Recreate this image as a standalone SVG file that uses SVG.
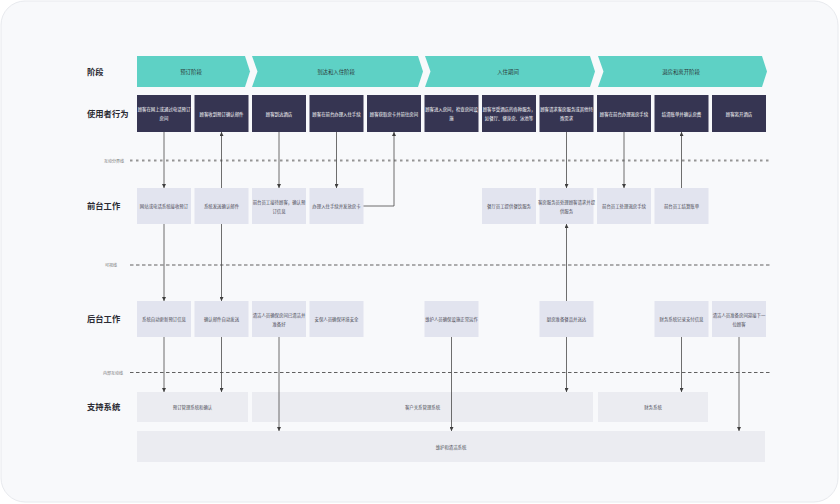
<svg xmlns="http://www.w3.org/2000/svg" width="840" height="504" viewBox="0 0 840 504">
<defs>
<style>
.lbl{font-family:"Noto Sans CJK SC","Noto Sans",sans-serif;font-size:8.3px;font-weight:bold;fill:#2b2b33}
.ph{fill:#5ed1c5}
.pht{font-family:"Noto Sans CJK SC","Noto Sans",sans-serif;font-size:5.4px;fill:#2d3b3a;text-anchor:middle;dominant-baseline:central}
.ub{fill:#363552}
.ubt{font-family:"Noto Sans CJK SC","Noto Sans",sans-serif;font-size:4.4px;fill:#ffffff;text-anchor:middle;dominant-baseline:central}
.lb{fill:#e2e4ef}
.lbt{font-family:"Noto Sans CJK SC","Noto Sans",sans-serif;font-size:4.4px;fill:#4a4a55;text-anchor:middle;dominant-baseline:central}
.sb{fill:#ebecf1}
.ln{font-family:"Noto Sans CJK SC","Noto Sans",sans-serif;font-size:4px;fill:#777;dominant-baseline:central}
.c{stroke:#4a4a4a;stroke-width:0.8;fill:none}
</style>
<marker id="ah" viewBox="0 0 6 6" refX="6" refY="3" markerWidth="4" markerHeight="4" orient="auto" markerUnits="userSpaceOnUse"><path d="M0,0 L6,3 L0,6 Z" fill="#3e3e3e"/></marker>
</defs>
<rect x="1" y="1" width="837" height="501" rx="24" fill="#f8f9fb" stroke="#e8eaee"/>

<g id="row-labels">
<text class="lbl" x="87" y="74.5">阶段</text>
<text class="lbl" x="87" y="116.5">使用者行为</text>
<text class="lbl" x="87" y="209">前台工作</text>
<text class="lbl" x="87" y="322">后台工作</text>
<text class="lbl" x="87" y="410">支持系统</text>
</g>

<g id="phases">
<g id="phase1"><path class="ph" d="M137,56 L245,56 L250,71.5 L245,87 L137,87 Z"/><text class="pht" x="191" y="71.5">预订阶段</text></g>
<g id="phase2"><path class="ph" d="M252,56 L418,56 L423,71.5 L418,87 L252,87 L257.5,71.5 Z"/><text class="pht" x="336" y="71.5">到达和入住阶段</text></g>
<g id="phase3"><path class="ph" d="M425,56 L590,56 L595,71.5 L590,87 L425,87 L430.5,71.5 Z"/><text class="pht" x="508" y="71.5">入住期间</text></g>
<g id="phase4"><path class="ph" d="M598,56 L762,56 L767,71.5 L762,87 L598,87 L603.5,71.5 Z"/><text class="pht" x="681" y="71.5">退房和离开阶段</text></g>
</g>

<g id="lines">
<line x1="130" y1="160.5" x2="770" y2="160.5" stroke="#959595" stroke-width="2" stroke-dasharray="2.5 3.5"/>
<text class="ln" x="104" y="160.5">互动分界线</text>
<line x1="130" y1="265" x2="770" y2="265" stroke="#606060" stroke-width="1.2" stroke-dasharray="3.5 2.5"/>
<text class="ln" x="105" y="265">可视线</text>
<line x1="130" y1="372.5" x2="770" y2="372.5" stroke="#606060" stroke-width="1.2" stroke-dasharray="3.5 2.5"/>
<text class="ln" x="103" y="372.5">内部互动线</text>
</g>

<g id="user-actions">
<g id="u1"><rect class="ub" x="137" y="95" width="54" height="37"/><text class="ubt" x="164" y="108.5">顾客在网上或通过电话预订</text><text class="ubt" x="164" y="117.5">房间</text></g>
<g id="u2"><rect class="ub" x="194.5" y="95" width="54" height="37"/><text class="ubt" x="221.5" y="113.5">顾客收到预订确认邮件</text></g>
<g id="u3"><rect class="ub" x="252" y="95" width="54" height="37"/><text class="ubt" x="279" y="113.5">顾客到达酒店</text></g>
<g id="u4"><rect class="ub" x="309.5" y="95" width="54" height="37"/><text class="ubt" x="336.5" y="113.5">顾客在前台办理入住手续</text></g>
<g id="u5"><rect class="ub" x="367" y="95" width="54" height="37"/><text class="ubt" x="394" y="113.5">顾客获取房卡并前往房间</text></g>
<g id="u6"><rect class="ub" x="424.5" y="95" width="54" height="37"/><text class="ubt" x="451.5" y="108.5">顾客进入房间，检查房间设</text><text class="ubt" x="451.5" y="117.5">施</text></g>
<g id="u7"><rect class="ub" x="482" y="95" width="54" height="37"/><text class="ubt" x="509" y="108.5">顾客享受酒店的各种服务，</text><text class="ubt" x="509" y="117.5">如餐厅、健身房、泳池等</text></g>
<g id="u8"><rect class="ub" x="539.5" y="95" width="54" height="37"/><text class="ubt" x="566.5" y="108.5">顾客请求客房服务或其他特</text><text class="ubt" x="566.5" y="117.5">殊需求</text></g>
<g id="u9"><rect class="ub" x="597" y="95" width="54" height="37"/><text class="ubt" x="624" y="113.5">顾客在前台办理退房手续</text></g>
<g id="u10"><rect class="ub" x="654.5" y="95" width="54" height="37"/><text class="ubt" x="681.5" y="113.5">结清账单并确认房费</text></g>
<g id="u11"><rect class="ub" x="712" y="95" width="54" height="37"/><text class="ubt" x="739" y="113.5">顾客离开酒店</text></g>
</g>

<g id="front-stage">
<g id="f1"><rect class="lb" x="137" y="188" width="54" height="36"/><text class="lbt" x="164" y="206">网站或电话系统接收预订</text></g>
<g id="f2"><rect class="lb" x="194.5" y="188" width="54" height="36"/><text class="lbt" x="221.5" y="206">系统发送确认邮件</text></g>
<g id="f3"><rect class="lb" x="252" y="188" width="54" height="36"/><text class="lbt" x="279" y="201.5">前台员工接待顾客，确认预</text><text class="lbt" x="279" y="210.5">订信息</text></g>
<g id="f4"><rect class="lb" x="309.5" y="188" width="54" height="36"/><text class="lbt" x="336.5" y="206">办理入住手续并发放房卡</text></g>
<g id="f7"><rect class="lb" x="482" y="188" width="54" height="36"/><text class="lbt" x="509" y="206">餐厅员工提供餐饮服务</text></g>
<g id="f8"><rect class="lb" x="539.5" y="188" width="54" height="36"/><text class="lbt" x="566.5" y="201.5">客房服务员处理顾客请求并提</text><text class="lbt" x="566.5" y="210.5">供服务</text></g>
<g id="f9"><rect class="lb" x="597" y="188" width="54" height="36"/><text class="lbt" x="624" y="206">前台员工处理退房手续</text></g>
<g id="f10"><rect class="lb" x="654.5" y="188" width="54" height="36"/><text class="lbt" x="681.5" y="206">前台员工结算账单</text></g>
</g>

<g id="back-stage">
<g id="b1"><rect class="lb" x="137" y="301" width="54" height="36"/><text class="lbt" x="164" y="319">系统自动更新预订信息</text></g>
<g id="b2"><rect class="lb" x="194.5" y="301" width="54" height="36"/><text class="lbt" x="221.5" y="319">确认邮件自动发送</text></g>
<g id="b3"><rect class="lb" x="252" y="301" width="54" height="36"/><text class="lbt" x="279" y="314.5">清洁人员确保房间已清洁并</text><text class="lbt" x="279" y="323.5">准备好</text></g>
<g id="b4"><rect class="lb" x="309.5" y="301" width="54" height="36"/><text class="lbt" x="336.5" y="319">安保人员确保环境安全</text></g>
<g id="b6"><rect class="lb" x="424.5" y="301" width="54" height="36"/><text class="lbt" x="451.5" y="319">维护人员确保设施正常运作</text></g>
<g id="b8"><rect class="lb" x="539.5" y="301" width="54" height="36"/><text class="lbt" x="566.5" y="319">厨房准备餐品并送达</text></g>
<g id="b10"><rect class="lb" x="654.5" y="301" width="54" height="36"/><text class="lbt" x="681.5" y="319">财务系统记录支付信息</text></g>
<g id="b11"><rect class="lb" x="712" y="301" width="54" height="36"/><text class="lbt" x="739" y="314.5">清洁人员准备房间迎接下一</text><text class="lbt" x="739" y="323.5">位顾客</text></g>
</g>

<g id="support">
<g id="s1"><rect class="sb" x="137" y="392" width="111" height="30"/><text class="lbt" x="192.5" y="407">预订管理系统和确认</text></g>
<g id="s2"><rect class="sb" x="252" y="392" width="341" height="30"/><text class="lbt" x="422.5" y="407">客户关系管理系统</text></g>
<g id="s3"><rect class="sb" x="598" y="392" width="110" height="30"/><text class="lbt" x="653" y="407">财务系统</text></g>
<g id="s4"><rect class="sb" x="137" y="431" width="628" height="31"/><text class="lbt" x="451" y="446.5">维护和清洁系统</text></g>
</g>

<g id="connectors">
<line class="c" x1="164" y1="132" x2="164" y2="188" marker-end="url(#ah)"/>
<line class="c" x1="164" y1="224" x2="164" y2="301" marker-end="url(#ah)"/>
<line class="c" x1="164" y1="337" x2="164" y2="392" marker-end="url(#ah)"/>
<line class="c" x1="221.5" y1="188" x2="221.5" y2="132" marker-end="url(#ah)"/>
<line class="c" x1="221.5" y1="224" x2="221.5" y2="301" marker-end="url(#ah)"/>
<line class="c" x1="221.5" y1="337" x2="221.5" y2="392" marker-end="url(#ah)"/>
<line class="c" x1="279" y1="132" x2="279" y2="188" marker-end="url(#ah)"/>
<line class="c" x1="279" y1="337" x2="279" y2="431" marker-end="url(#ah)"/>
<line class="c" x1="336.5" y1="132" x2="336.5" y2="188" marker-end="url(#ah)"/>
<path class="c" d="M363.5,206 L394,206 L394,132" marker-end="url(#ah)"/>
<line class="c" x1="451.5" y1="337" x2="451.5" y2="431" marker-end="url(#ah)"/>
<line class="c" x1="566.5" y1="132" x2="566.5" y2="188" marker-end="url(#ah)"/>
<line class="c" x1="566.5" y1="301" x2="566.5" y2="224" marker-end="url(#ah)"/>
<line class="c" x1="566.5" y1="337" x2="566.5" y2="392" marker-end="url(#ah)"/>
<line class="c" x1="624" y1="132" x2="624" y2="188" marker-end="url(#ah)"/>
<line class="c" x1="681.5" y1="188" x2="681.5" y2="132" marker-end="url(#ah)"/>
<line class="c" x1="681.5" y1="337" x2="681.5" y2="392" marker-end="url(#ah)"/>
<line class="c" x1="739" y1="337" x2="739" y2="431" marker-end="url(#ah)"/>
</g>
</svg>
